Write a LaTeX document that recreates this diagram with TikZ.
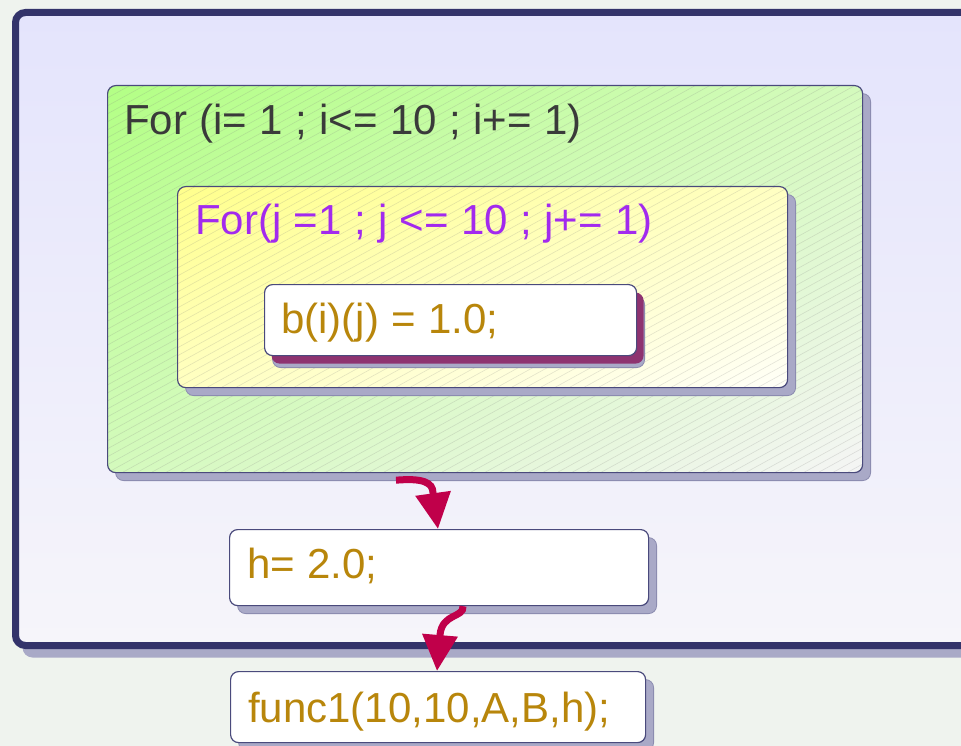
\documentclass[tikz,border=0pt]{standalone}
\usepackage{fontspec}
\setmainfont{Liberation Sans}[WordSpace=1.06]
\usetikzlibrary{arrows.meta,shadows}
\definecolor{bg}{HTML}{EFF3EE}
\definecolor{outerB}{HTML}{33336A}
\definecolor{outerTop}{HTML}{E4E4FC}
\definecolor{outerBot}{HTML}{F6F5FA}
\definecolor{shadowc}{HTML}{A9A9C7}
\definecolor{shadowedge}{HTML}{8C8CB0}
\definecolor{boxline}{HTML}{4A4A7C}
\definecolor{gold}{HTML}{B8860B}
\definecolor{violet}{HTML}{A22AEE}
\definecolor{textgray}{HTML}{3A3A3A}
\definecolor{plum}{HTML}{8E3370}
\definecolor{crimson}{HTML}{C0004A}
% diagonal gradients: t = (x - y + 50)/100, top-left -> bottom-right
\pgfdeclarefunctionalshading{greengrad}{\pgfpointorigin}{\pgfpoint{100bp}{100bp}}{}{
  sub 50 add 100 div
  dup 0 lt {pop 0} if dup 1 gt {pop 1} if
  dup 0.259 mul 0.702 add exch
  dup -0.039 mul 1 add exch
  0.439 mul 0.522 add
}
\pgfdeclarefunctionalshading{yellowgrad}{\pgfpointorigin}{\pgfpoint{100bp}{100bp}}{}{
  sub 50 add 100 div
  dup 0 lt {pop 0} if dup 1 gt {pop 1} if
  dup 0 mul 1 add exch
  dup 0 mul 1 add exch
  0.424 mul 0.549 add
}
\begin{document}
\begin{tikzpicture}[x=1pt,y=-1pt,
  box/.style={draw=boxline, line width=1.2pt, rounded corners=8pt, inner sep=0pt, anchor=north west},
  shad/.style={general shadow={shadow xshift=8pt, shadow yshift=-8pt, fill=shadowc, draw=shadowedge, line width=0.8pt}},
  hatch/.style={path picture={
      \foreach \k in {-55,...,60}{
        \draw[gray, opacity=.22, line width=.6pt]
          ([xshift=\k*14.5pt]path picture bounding box.south west) -- ++(1000,-550);}}},
  lbl/.style={anchor=base west, inner sep=0pt, font=\fontsize{42}{50}\selectfont},
  flow/.style={draw=crimson, line width=7pt, -{Triangle[length=36pt,width=34pt]}}
]
\useasboundingbox (0,0) rectangle (961,746);
\clip (0,0) rectangle (961,746);
\fill[bg] (0,0) rectangle (961,746);

% outer box
\node[box, draw=outerB, line width=7pt, rounded corners=10pt,
      top color=outerTop, bottom color=outerBot,
      general shadow={shadow xshift=7pt, shadow yshift=-12pt, fill=shadowc},
      minimum width=978pt, minimum height=633pt] (outer) at (12,9) {};

% green loop box
\node[box, shad, shade, shading=greengrad, hatch,
      minimum width=755pt, minimum height=387pt] (green) at (107,85) {};
\node[lbl, text=textgray] (ti) at (124,135) {For (i= 1 ; i<= 10 ; i+= 1)};

% yellow loop box
\node[box, shad, shade, shading=yellowgrad, hatch,
      minimum width=610pt, minimum height=201pt] (yellow) at (177,186) {};
\node[lbl, text=violet] (tj) at (195,235) {For(j =1 ; j <= 10 ; j+= 1)};

% b box
\node[box, fill=white,
      general shadow={shadow xshift=8pt, shadow yshift=-12pt, fill=shadowc, draw=shadowedge, line width=0.8pt},
      general shadow={shadow xshift=7pt, shadow yshift=-8pt, fill=plum},
      minimum width=372pt, minimum height=71pt] (bbox) at (264,284) {};
\node[lbl, text=gold] (tb) at (281,333) {b(i)(j) = 1.0;};

% h box
\node[box, shad, fill=white, minimum width=419pt, minimum height=76pt] (hbox) at (229,529) {};
\node[lbl, text=gold] (th) at (247,578) {h= 2.0;};

% func box
\node[box, shad, fill=white, minimum width=415pt, minimum height=71pt] (fbox) at (230,671) {};
\node[lbl, text=gold] (tf) at (248,722) {func1(10,10,A,B,h);};

% connectors
\coordinate (a1s) at ([xshift=289pt, yshift=-7pt]green.south west);
\coordinate (a1e) at ([xshift=209pt]hbox.north west);
\coordinate (a2s) at ([xshift=234pt]hbox.south west);
\coordinate (a2e) at ([xshift=207pt]fbox.north west);
\draw[flow] (a1s) .. controls (422,478) and (433,482) .. (433,493) -- (a1e);
\draw[flow] (a2s) .. controls (464,618) and (442,613) .. (440,635) -- (a2e);
\end{tikzpicture}
\end{document}
